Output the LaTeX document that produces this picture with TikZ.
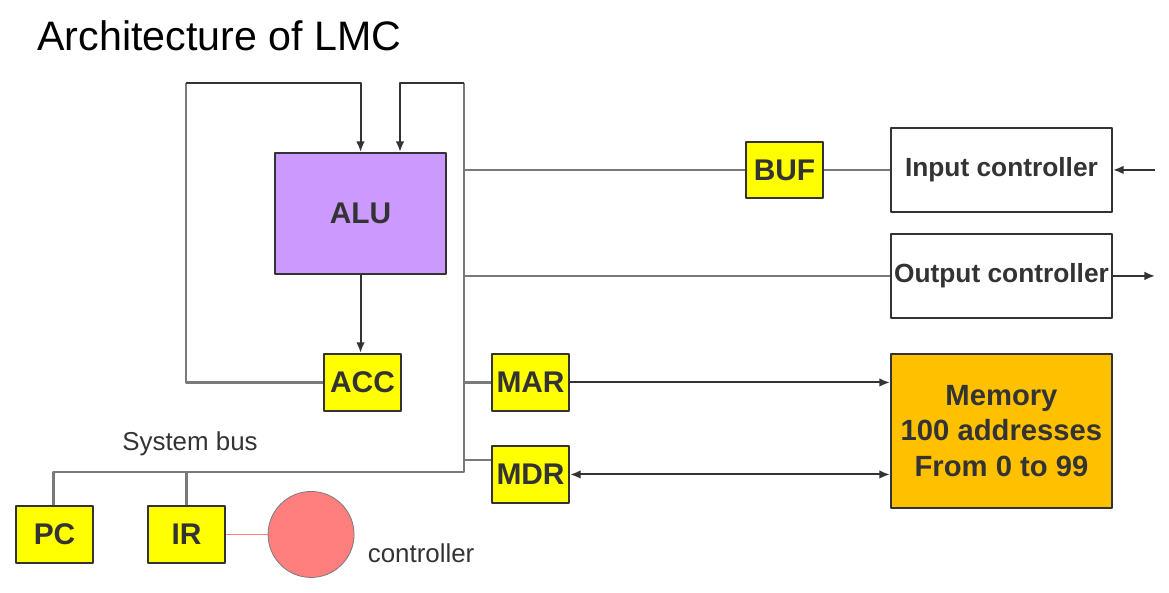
\documentclass[tikz,border=0pt]{standalone}
\usepackage{fontspec}
\setmainfont{Liberation Sans}
\usetikzlibrary{arrows,arrows.meta,shapes}

\definecolor{linedark}{HTML}{333333}
\definecolor{busgray}{HTML}{7A7A7A}
\definecolor{aluviolet}{HTML}{CC99FF}
\definecolor{regyellow}{HTML}{FFFF00}
\definecolor{memorange}{HTML}{FFC000}
\definecolor{ctlpink}{HTML}{FF7F7F}

\begin{document}
\begin{tikzpicture}[>={Latex[length=8bp,width=6.5bp]},line join=bevel,
  box/.style={draw=linedark,line width=1.5bp,inner sep=0pt,text=linedark,
    font=\fontsize{22.5}{26}\selectfont\bfseries},
  reg/.style={box,fill=regyellow,minimum width=57.8bp,minimum height=42.8bp},
  ctl/.style={box,fill=white,minimum width=165.8bp,minimum height=63bp,
    font=\fontsize{19.8}{23}\selectfont\bfseries},
  bus/.style={draw=busgray,line width=1.8bp},
  wire/.style={draw=linedark,line width=1.5bp}]
\useasboundingbox (0bp,0bp) rectangle (876.75bp,444.75bp);
%%
\node (title) at (24.5bp,407.0bp) [anchor=base west,font=\fontsize{31}{36}\selectfont] {Architecture of LMC};
%% CPU side
\node (ALU) at (270.4bp,284.6bp) [box,fill=aluviolet,minimum width=128.3bp,minimum height=90.8bp] {ALU};
\node (ACC) at (271.9bp,157.9bp) [reg] {ACC};
\node (MAR) at (397.9bp,157.9bp) [reg] {MAR};
\node (MDR) at (397.9bp,88.9bp) [reg] {MDR};
\node (BUF) at (588.4bp,317.3bp) [reg,minimum height=42bp] {BUF};
\node (PC) at (40.9bp,43.9bp) [reg] {PC};
\node (IR) at (139.9bp,43.9bp) [reg] {IR};
\node (ctrl) at (233.3bp,43.9bp) [circle,draw=busgray,line width=0.6bp,fill=ctlpink,minimum size=64.5bp] {};
\node (ctrllbl) at (315.8bp,30.0bp) [text=linedark,font=\fontsize{19.5}{22}\selectfont] {controller};
\node (buslbl) at (142.5bp,111.8bp) [text=linedark,font=\fontsize{19.5}{22}\selectfont] {System bus};
%% I/O and memory
\node (In) at (751.1bp,317.3bp) [ctl] {Input controller};
\node (Out) at (751.1bp,237.8bp) [ctl] {Output controller};
\node (Mem) at (751.1bp,121.5bp) [box,fill=memorange,minimum width=165.8bp,minimum height=115.5bp,
  align=center,font=\fontsize{22}{26.5}\selectfont\bfseries] {Memory\\100 addresses\\From 0 to 99};
%%
\coordinate (bustop) at (348.0bp,382.5bp);
\coordinate (busbot) at (348.0bp,90.8bp);
\coordinate (rtop) at (300.0bp,382.5bp);
\coordinate (ltop) at (139.5bp,382.5bp);
\coordinate (busleft) at (40.0bp,90.8bp);
\coordinate (mdrtap) at (348.0bp,99.8bp);
\coordinate (inp) at (866.3bp,317.3bp);
\coordinate (outp) at (866.3bp,237.8bp);
%% system bus
\draw [bus] (bustop) -- (busbot) -- (busleft) -- (busleft |- PC.north);
\draw [bus] (IR.north) -- (IR.north |- busbot);
\draw [bus] (BUF.west -| bustop) -- (BUF.west);
\draw [bus] (BUF.east) -- (In.west);
\draw [bus] (Out.west -| bustop) -- (Out.west);
\draw [bus] (MAR.west -| bustop) -- (MAR.west);
\draw [bus] (mdrtap) -- (mdrtap -| MDR.west);
\draw [bus] (ACC.west) -- (ACC.west -| ltop) -- (ltop);
%% feedback into ALU
\draw [wire,->] (ltop) -- (ltop -| ALU.north) -- (ALU.north);
\draw [wire,->] (bustop) -- (rtop) -- (rtop |- ALU.north);
\draw [wire,->] (ALU.south) -- (ALU.south |- ACC.north);
%% memory and I/O
\draw [wire,->] (MAR.east) -- (MAR.east -| Mem.west);
\draw [wire,<->] (MDR.east) -- (MDR.east -| Mem.west);
\draw [wire,->] (inp) -- (In.east);
\draw [wire,->] (Out.east) -- (outp);
\draw [draw=ctlpink,line width=1.2bp] (IR.east) -- (ctrl.west);
%
\end{tikzpicture}
\end{document}
